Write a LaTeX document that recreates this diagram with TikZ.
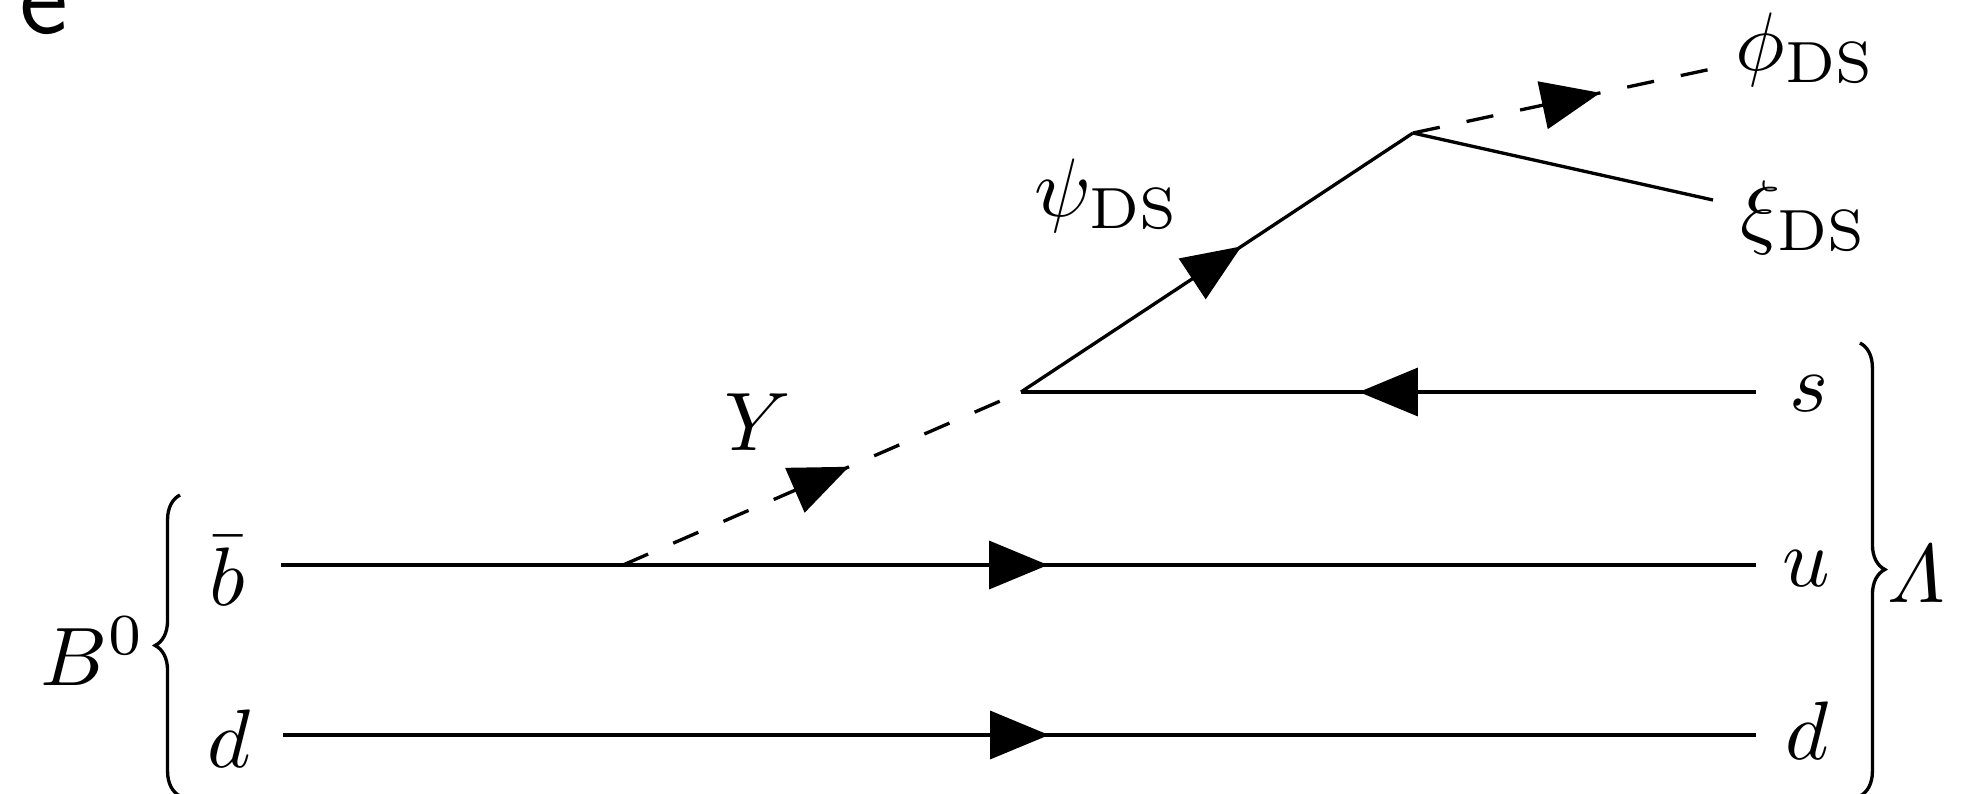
\documentclass[tikz,border=0pt]{standalone}
\usepackage{amsmath}
\usetikzlibrary{decorations.markings,decorations.pathreplacing}
\tikzset{
  plainline/.style={line width=0.4pt},
  fermion/.style={plainline, postaction={decorate},
    decoration={markings, mark=at position 0.5 with {\fill (3.55pt,0) -- (-3.55pt,2.95pt) -- (-3.55pt,-2.95pt) -- cycle;}}},
  scalar/.style={fermion, dash pattern=on 3.3pt off 3.3pt},
  lbl/.style={anchor=base west, inner sep=0pt, outer sep=0pt},
  bracestyle/.style={decorate, decoration={brace, amplitude=3pt}, line width=0.4pt}
}
\begin{document}
\begin{tikzpicture}[x=0.1205pt, y=-0.1205pt]
\useasboundingbox (0,0) rectangle (1983,793);
% cut-off text at the top
\node[lbl, font=\sffamily\fontsize{13.5}{16}\selectfont] (etxt) at (19,33) {e};
% vertices and free ends
\coordinate (bL) at (281,565);
\coordinate (bR) at (1756,565);
\coordinate (dL) at (283,735);
\coordinate (dR) at (1756,735);
\coordinate (sR) at (1756,392);
\coordinate (v1) at (623,565);
\coordinate (v2) at (1021,392);
\coordinate (v3) at (1413,133);
\coordinate (phiE) at (1730,65);
\coordinate (xiE) at (1713,200);
% propagators
\draw[fermion] (bL) -- (bR);
\draw[fermion] (dL) -- (dR);
\draw[fermion] (sR) -- (v2);
\draw[scalar] (v1) -- (v2);
\draw[fermion] (v2) -- (v3);
\draw[scalar] (v3) -- (phiE);
\draw[plainline] (v3) -- (xiE);
% labels
\node[lbl] (B0) at (41,685) {$B^0$};
\node[lbl] (bbar) at (210,605) {$\bar b$};
\node[lbl] (dl) at (208,767) {$d$};
\node[lbl] (Ylab) at (725,450) {$Y$};
\node[lbl] (psi) at (1035,216) {$\psi_{\mathrm{DS}}$};
\node[lbl] (phi) at (1736,70) {$\phi_{\mathrm{DS}}$};
\node[lbl] (xi) at (1741,238) {$\xi_{\mathrm{DS}}$};
\node[lbl] (slab) at (1790,411) {$s$};
\node[lbl] (ulab) at (1783,586) {$u$};
\node[lbl] (dr) at (1786,759) {$d$};
\node[lbl] (Lam) at (1888,602) {$\varLambda$};
% braces
\coordinate (lbB) at (180,796);
\coordinate (lbT) at (180,495);
\coordinate (rbT) at (1860,343);
\coordinate (rbB) at (1860,796);
\draw[bracestyle] (lbB) -- (lbT);
\draw[bracestyle] (rbT) -- (rbB);
\end{tikzpicture}
\end{document}
